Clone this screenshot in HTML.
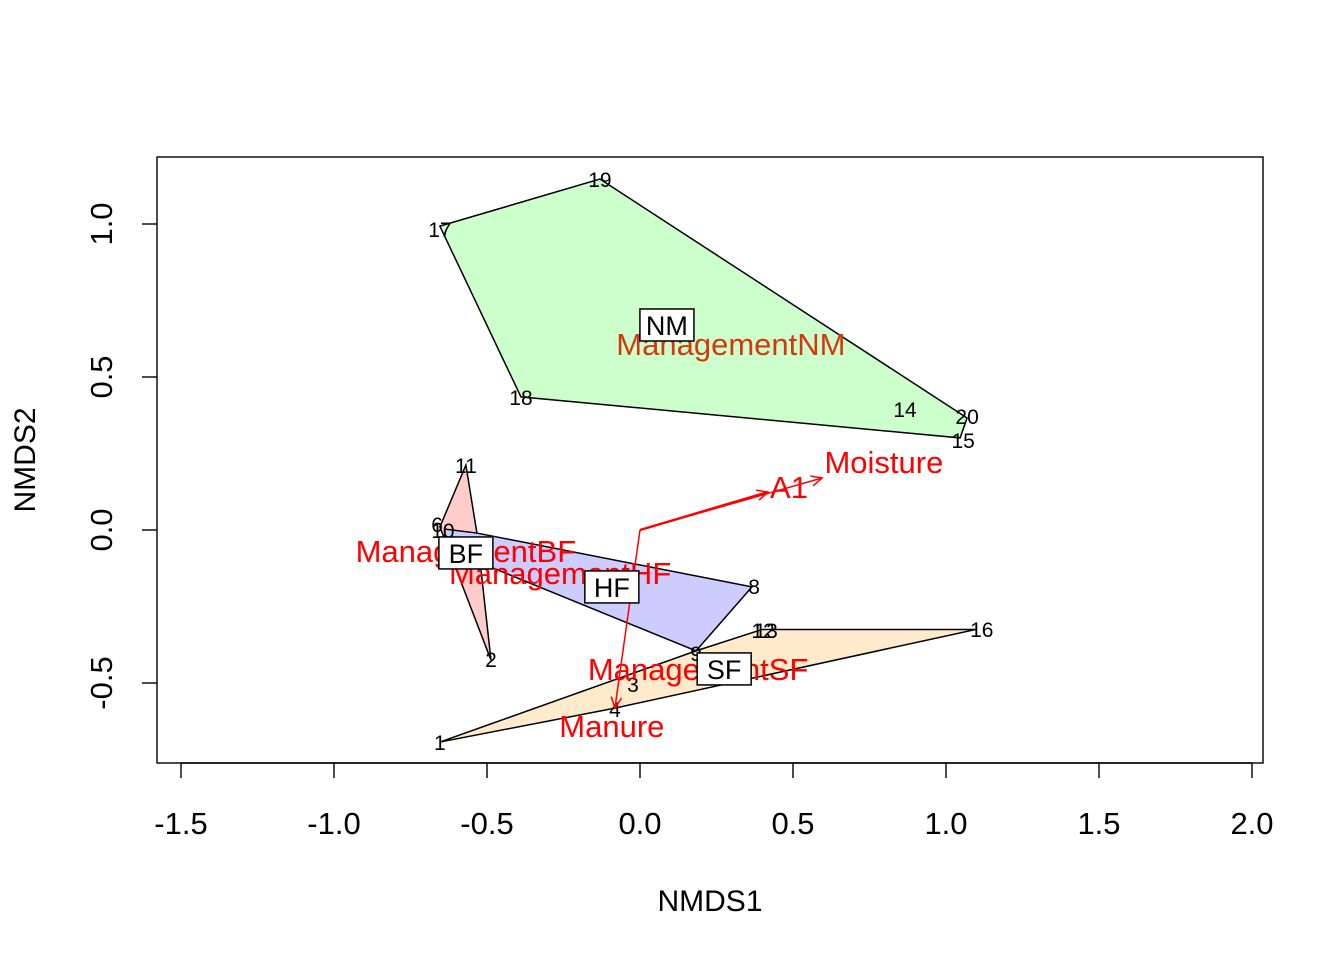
<!DOCTYPE html>
<html><head><meta charset="utf-8"><style>
html,body{margin:0;padding:0;background:#fff;}
svg{display:block;font-family:"Liberation Sans",Arial,sans-serif;}
</style></head><body>
<svg id="chart" width="1344" height="960" viewBox="0 0 1344 960" xmlns="http://www.w3.org/2000/svg">
<rect x="0" y="0" width="1344" height="960" fill="#fff"/>
<g id="hulls"></g>
<g id="texts"></g>
<g id="arrows"></g>
<g id="boxes"></g>
<rect x="157" y="157" width="1106" height="606" fill="none" stroke="#000" stroke-width="1.4"/>
<g id="axes"></g>
<text x="710" y="911" font-size="30" text-anchor="middle">NMDS1</text>
<text transform="translate(35,460) rotate(-90)" font-size="30" text-anchor="middle">NMDS2</text>
</svg>
<script>
const sampleIds = ["1","2","3","4","6","10","11","8","9","12","13","14","15","16","17","18","19","20"];
const sampleX = [-0.654,-0.487,-0.023,-0.082,-0.663,-0.644,-0.569,0.373,0.183,0.402,0.412,0.866,1.056,1.117,-0.654,-0.389,-0.131,1.069];
const sampleY = [-0.696,-0.425,-0.507,-0.588,0.016,-0.003,0.209,-0.186,-0.405,-0.330,-0.330,0.392,0.291,-0.327,0.980,0.431,1.144,0.369];
const hullNames = ["BF","HF","SF","NM"];
const hullColors = ["#ffcccc","#ccccff","#ffebcc","#ccffcc"];
const hullXs = [[-0.654,-0.569,-0.533,-0.487],[-0.637,-0.533,0.366,0.183,-0.641],[-0.654,0.183,0.399,1.098,-0.082],[-0.654,-0.131,1.069,1.046,-0.389]];
const hullYs = [[0.010,0.212,-0.010,-0.425],[0.003,-0.010,-0.186,-0.395,-0.059],[-0.693,-0.395,-0.325,-0.325,-0.582],[0.993,1.147,0.366,0.301,0.435]];
const hullLabelX = [-0.569,-0.092,0.275,0.088];
const hullLabelY = [-0.075,-0.186,-0.454,0.670];
const vecNames = ["A1","Moisture","Manure"];
const vecX = [0.418,0.595,-0.082];
const vecY = [0.124,0.170,-0.582];
const vecLabelX = [0.487,0.797,-0.092];
const vecLabelY = [0.141,0.222,-0.641];
const factorNames = ["ManagementNM","ManagementBF","ManagementHF","ManagementSF"];
const factorX = [0.297,-0.569,-0.261,0.190];
const factorY = [0.608,-0.069,-0.141,-0.454];
const xTicks = [-1.5,-1.0,-0.5,0.0,0.5,1.0,1.5,2.0];
const xTickLabels = ["-1.5","-1.0","-0.5","0.0","0.5","1.0","1.5","2.0"];
const yTicks = [-0.5,0.0,0.5,1.0];
const yTickLabels = ["-0.5","0.0","0.5","1.0"];

const NS="http://www.w3.org/2000/svg";
const sx = v => 640 + v*306;
const sy = v => 530 - v*306;
function mk(tag, parent, attrs){const e=document.createElementNS(NS,tag);for(const k in attrs)e.setAttribute(k,attrs[k]);parent.appendChild(e);return e;}
const gH=document.getElementById('hulls'), gT=document.getElementById('texts'), gA=document.getElementById('arrows'), gB=document.getElementById('boxes'), gX=document.getElementById('axes');

hullNames.forEach((n,i)=>{
  const pts=hullXs[i].map((x,j)=>sx(x)+','+sy(hullYs[i][j])).join(' ');
  const p=mk('polygon',gH,{points:pts,fill:hullColors[i],stroke:'#000','stroke-width':1.5});
  
  
});
sampleIds.forEach((id,i)=>{
  const t=mk('text',gT,{x:sx(sampleX[i]),y:sy(sampleY[i])+7,'font-size':21,'text-anchor':'middle',fill:'#000'});
  t.textContent=id;
  
  
});
factorNames.forEach((n,i)=>{
  const t=mk('text',gT,{x:sx(factorX[i]),y:sy(factorY[i])+11,'font-size':31,'text-anchor':'middle',fill:i==0?'#d4380f':'#ff0000'});
  t.textContent=n;
  
  
});
vecNames.forEach((n,i)=>{
  const x1=sx(0),y1=sy(0),x2=sx(vecX[i]),y2=sy(vecY[i]);
  const l=mk('line',gA,{x1:x1,y1:y1,x2:x2,y2:y2,stroke:'#ff0000','stroke-width':i==0?2.4:1.5});
  
  
  const a=Math.atan2(y2-y1,x2-x1), L=12, w=0.45;
  const pts=[[x2-L*Math.cos(a-w),y2-L*Math.sin(a-w)],[x2,y2],[x2-L*Math.cos(a+w),y2-L*Math.sin(a+w)]].map(p=>p.join(',')).join(' ');
  const h=mk('polyline',gA,{points:pts,fill:'none',stroke:'#ff0000','stroke-width':1.5});
  
  
  const t=mk('text',gA,{x:sx(vecLabelX[i]),y:sy(vecLabelY[i])+11,'font-size':31,'text-anchor':'middle',fill:'#ff0000'});
  t.textContent=n;
  
  
});
hullNames.forEach((n,i)=>{
  const cx=sx(hullLabelX[i]), cy=sy(hullLabelY[i]);
  const w=n.length*20+14;
  const r=mk('rect',gB,{x:cx-w/2,y:cy-16,width:w,height:32,fill:'#fff',stroke:'#000','stroke-width':1.5});
  
  
  const t=mk('text',gB,{x:cx,y:cy+10,'font-size':27,'text-anchor':'middle',fill:'#000'});
  t.textContent=n;
  
  
});
xTicks.forEach((v,i)=>{
  const l=mk('line',gX,{x1:sx(v),x2:sx(v),y1:763,y2:778,stroke:'#000','stroke-width':1.4});
  
  
  const t=mk('text',gX,{x:sx(v),y:834,'font-size':31,'text-anchor':'middle'});
  t.textContent=xTickLabels[i];
  
  
});
mk('line',gX,{x1:sx(xTicks[0]),x2:sx(xTicks[xTicks.length-1]),y1:763,y2:763,stroke:'#000','stroke-width':1.4});
yTicks.forEach((v,i)=>{
  const l=mk('line',gX,{x1:142,x2:157,y1:sy(v),y2:sy(v),stroke:'#000','stroke-width':1.4});
  
  
  const t=mk('text',gX,{x:0,y:0,'font-size':31,'text-anchor':'middle',transform:'translate(112,'+sy(v)+') rotate(-90)'});
  t.textContent=yTickLabels[i];
  
  
});
</script>
</body></html>
